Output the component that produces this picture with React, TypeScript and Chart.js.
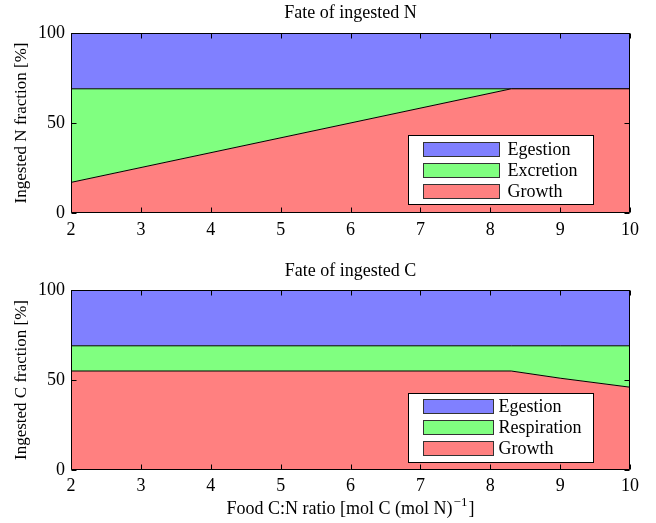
import { useEffect, useRef } from "react";
import { Chart, registerables } from "chart.js";

Chart.register(...registerables);

// Food C:N ratio breakpoints and the fate of ingested nitrogen (% of intake)
const ratioN = [2, 8.3, 10];
const growthN = [17, 69, 69];
const excretionN = [52, 0, 0];
const egestionN = [31, 31, 31];

// Fate of ingested carbon (% of intake)
const ratioC = [2, 8.3, 9, 10];
const growthC = [55, 55, 51, 46];
const respirationC = [14, 14, 18, 23];
const egestionC = [31, 31, 31, 31];

const xRange = [2, 10];
const yRange = [0, 100];
const yStep = 50;

const RED = "#ff8080";
const GREEN = "#80ff80";
const BLUE = "#8080ff";
const FONT = "'Liberation Serif', 'Times New Roman', Times, serif";

Chart.defaults.font.family = FONT;
Chart.defaults.color = "#000";

// Black box around the plot area with MATLAB-style inward ticks on all four sides
const framePlugin = {
  id: "frame",
  afterDatasetsDraw(chart: any) {
    const { ctx, chartArea: a, scales } = chart;
    const L = Math.round(a.left) + 0.5;
    const R = Math.round(a.right) - 0.5;
    const T = Math.round(a.top) + 0.5;
    const B = Math.round(a.bottom) - 0.5;
    ctx.save();
    ctx.strokeStyle = "#000";
    ctx.lineWidth = 1;
    ctx.beginPath();
    ctx.rect(L, T, R - L, B - T);
    const len = 5;
    for (const t of scales.x.ticks) {
      const px = Math.round(scales.x.getPixelForValue(t.value)) + 0.5;
      ctx.moveTo(px, B);
      ctx.lineTo(px, B - len);
      ctx.moveTo(px, T);
      ctx.lineTo(px, T + len);
    }
    for (const t of scales.y.ticks) {
      const py = Math.round(scales.y.getPixelForValue(t.value)) + 0.5;
      ctx.moveTo(L, py);
      ctx.lineTo(L + len, py);
      ctx.moveTo(R, py);
      ctx.lineTo(R - len, py);
    }
    ctx.stroke();
    ctx.restore();
  },
};

// Boxed legend placed inside the lower-right corner of the plot area
const boxLegendPlugin = {
  id: "boxLegend",
  afterDraw(chart: any, _args: any, o: any) {
    const { ctx, chartArea: a } = chart;
    const x0 = Math.round(a.right - o.right - o.width) + 0.5;
    const y0 = Math.round(a.bottom - o.bottom - o.height) + 0.5;
    ctx.save();
    ctx.fillStyle = "#fff";
    ctx.strokeStyle = "#000";
    ctx.lineWidth = 1;
    ctx.fillRect(x0, y0, o.width, o.height);
    ctx.strokeRect(x0, y0, o.width, o.height);
    const sets = [...chart.data.datasets].reverse();
    ctx.font = `18px ${FONT}`;
    ctx.textBaseline = "middle";
    ctx.textAlign = "left";
    sets.forEach((ds: any, i: number) => {
      const sy = y0 + o.rowTop + i * o.rowGap;
      ctx.fillStyle = ds.backgroundColor;
      ctx.fillRect(x0 + o.swatchX, sy, o.swatchW, o.swatchH);
      ctx.strokeStyle = "#333";
      ctx.strokeRect(x0 + o.swatchX, sy, o.swatchW, o.swatchH);
      ctx.fillStyle = "#000";
      ctx.fillText(ds.label, x0 + o.textX, sy + o.swatchH / 2 + 1);
    });
    ctx.restore();
  },
};

// X-axis caption with a superscript exponent
const xCaptionPlugin = {
  id: "xCaption",
  afterDraw(chart: any, _args: any, o: any) {
    if (!o || !o.display) return;
    const { ctx, chartArea: a } = chart;
    const main = o.main as string;
    const sup = o.sup as string;
    const tail = o.tail as string;
    ctx.save();
    ctx.fillStyle = "#000";
    ctx.textBaseline = "alphabetic";
    ctx.textAlign = "left";
    ctx.font = `18px ${FONT}`;
    const wMain = ctx.measureText(main).width;
    const wTail = ctx.measureText(tail).width;
    ctx.font = `13px ${FONT}`;
    const wSup = ctx.measureText(sup).width;
    const total = wMain + wSup + 2 + wTail;
    const cx = (a.left + a.right) / 2;
    const base = a.bottom + o.offset;
    let x = cx - total / 2;
    ctx.font = `18px ${FONT}`;
    ctx.fillText(main, x, base);
    x += wMain + 1;
    ctx.font = `13px ${FONT}`;
    ctx.fillText(sup, x, base - 8);
    x += wSup + 1;
    ctx.font = `18px ${FONT}`;
    ctx.fillText(tail, x, base);
    ctx.restore();
  },
};

type PanelSpec = {
  title: string;
  titlePad: { top: number; bottom: number };
  yTitle: string;
  xs: number[];
  series: { label: string; values: number[]; color: string }[];
  xHeight: number;
  xTickPad: number;
  legend: any;
  caption: any;
};

function makeConfig(p: PanelSpec): any {
  return {
    type: "line",
    data: {
      datasets: p.series.map((s, i) => ({
        label: s.label,
        data: s.values.map((v, j) => ({ x: p.xs[j], y: v })),
        backgroundColor: s.color,
        borderColor: "#000",
        borderWidth: 1,
        pointRadius: 0,
        tension: 0,
        fill: i === 0 ? "origin" : "-1",
      })),
    },
    options: {
      animation: false,
      responsive: false,
      maintainAspectRatio: false,
      devicePixelRatio: 1,
      layout: { padding: { left: 0, right: 26, top: 0, bottom: 0 } },
      plugins: {
        legend: { display: false },
        tooltip: { enabled: false },
        title: {
          display: true,
          fullSize: false,
          text: p.title,
          color: "#000",
          font: { size: 18, lineHeight: 1, weight: "normal", family: FONT },
          padding: p.titlePad,
        },
        boxLegend: p.legend,
        xCaption: p.caption,
      },
      scales: {
        x: {
          type: "linear",
          min: xRange[0],
          max: xRange[1],
          grid: { display: false, drawTicks: false },
          border: { display: false },
          ticks: { stepSize: 1, autoSkip: false, maxRotation: 0, padding: p.xTickPad, font: { size: 18 }, color: "#000" },
          afterFit: (s: any) => {
            s.height = p.xHeight;
          },
        },
        y: {
          type: "linear",
          stacked: true,
          min: yRange[0],
          max: yRange[1],
          grid: { display: false, drawTicks: false },
          border: { display: false },
          ticks: { stepSize: yStep, padding: 6, font: { size: 18 }, color: "#000" },
          title: {
            display: true,
            text: p.yTitle,
            color: "#000",
            font: { size: 17 },
            padding: { top: 11, bottom: 0 },
          },
          afterFit: (s: any) => {
            s.width = 71;
          },
        },
      },
    },
    plugins: [framePlugin, boxLegendPlugin, xCaptionPlugin],
  };
}

const legendBase = {
  right: 37,
  width: 185,
  height: 69,
  swatchX: 15,
  swatchH: 14,
  rowTop: 7,
  rowGap: 21,
};

export default function App() {
  const topRef = useRef<HTMLCanvasElement>(null);
  const botRef = useRef<HTMLCanvasElement>(null);

  useEffect(() => {
    const top = new Chart(
      topRef.current!,
      makeConfig({
        title: "Fate of ingested N",
        titlePad: { top: 4, bottom: 11 },
        yTitle: "Ingested N fraction [%]",
        xs: ratioN,
        series: [
          { label: "Growth", values: growthN, color: RED },
          { label: "Excretion", values: excretionN, color: GREEN },
          { label: "Egestion", values: egestionN, color: BLUE },
        ],
        xHeight: 37,
        xTickPad: 6,
        legend: { ...legendBase, bottom: 9, swatchW: 76, textX: 99 },
        caption: { display: false },
      })
    );
    const bottom = new Chart(
      botRef.current!,
      makeConfig({
        title: "Fate of ingested C",
        titlePad: { top: 12, bottom: 10 },
        yTitle: "Ingested C fraction [%]",
        xs: ratioC,
        series: [
          { label: "Growth", values: growthC, color: RED },
          { label: "Respiration", values: respirationC, color: GREEN },
          { label: "Egestion", values: egestionC, color: BLUE },
        ],
        xHeight: 53,
        xTickPad: 5,
        legend: { ...legendBase, bottom: 8, rowTop: 6, swatchW: 70, textX: 90 },
        caption: {
          display: true,
          main: "Food C:N ratio [mol C (mol N)",
          sup: "\u22121",
          tail: "]",
          offset: 44,
        },
      })
    );
    return () => {
      top.destroy();
      bottom.destroy();
    };
  }, []);

  return (
    <div
      style={{
        position: "absolute",
        left: 0,
        top: 0,
        width: 656,
        height: 523,
        background: "#fff",
      }}
    >
      <canvas
        ref={topRef}
        width={656}
        height={250}
        style={{ position: "absolute", left: 0, top: 0, width: 656, height: 250 }}
      />
      <canvas
        ref={botRef}
        width={656}
        height={273}
        style={{ position: "absolute", left: 0, top: 250, width: 656, height: 273 }}
      />
    </div>
  );
}
